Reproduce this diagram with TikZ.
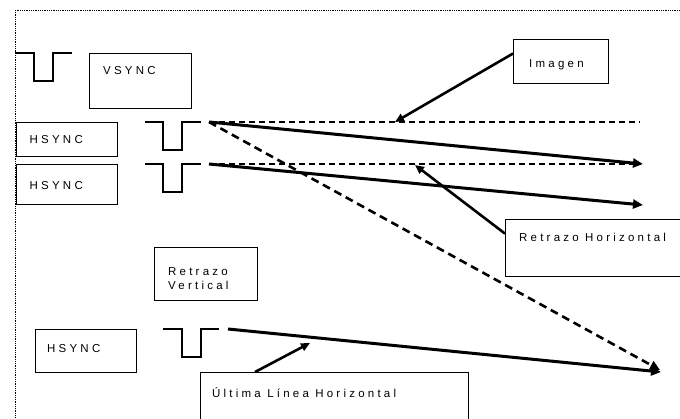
\documentclass[tikz,border=0pt]{standalone}
\usepackage{fontspec}
\setmainfont{Liberation Sans}
\usetikzlibrary{arrows.meta,calc}
\newcommand\spacedtext{\fontsize{11.5}{14.6}\selectfont\addfontfeature{LetterSpace=28}}
\tikzset{
  frame/.style={line width=0.9pt, dash pattern=on 0.9pt off 0.9pt},
  box/.style={draw, line width=1.4pt, rectangle, inner sep=0pt, anchor=north west},
  lbl/.style={anchor=base west, inner sep=0pt, font=\spacedtext},
  pulse/.style={line width=1.4pt},
  guide/.style={line width=1.2pt, dash pattern=on 6pt off 4pt},
  ray/.style={line width=3pt, -{Triangle[length=10pt,width=9pt]}},
  dray/.style={line width=2.6pt, dash pattern=on 8pt off 5pt, -{Triangle[length=10pt,width=9pt]}},
  pointer/.style={line width=2.6pt, -{Triangle[length=9pt,width=8pt]}},
}
\begin{document}
\begin{tikzpicture}[x=1pt,y=-1pt]
  \path[use as bounding box, clip] (0,0) rectangle (680,418);

  % dotted outer frame (only top and left edges fall inside the page)
  \draw[frame] (15,10) rectangle (720,460);

  % boxes
  \node[box, minimum width=102, minimum height=55] (vs) at (89,53) {};
  \node[box, minimum width=101, minimum height=34] (h1) at (16,122) {};
  \node[box, minimum width=101, minimum height=40] (h2) at (16,164) {};
  \node[box, minimum width=95,  minimum height=44] (img) at (513,39) {};
  \node[box, minimum width=200, minimum height=57] (rh) at (505,219) {};
  \node[box, minimum width=103, minimum height=53] (rv) at (154,247) {};
  \node[box, minimum width=101, minimum height=43] (h3) at (35,329) {};
  \node[box, minimum width=268, minimum height=80] (ul) at (200,372) {};

  % labels
  \node[lbl] (vs-t)  at (103,74.5) {VSYNC};
  \node[lbl] (h1-t)  at (29.5,143.3) {HSYNC};
  \node[lbl] (h2-t)  at (29.5,189) {HSYNC};
  \node[lbl] (img-t) at (529,67) {Imagen};
  \node[lbl] (rh-t)  at (519,241) {Retrazo Horizontal};
  \node[lbl, anchor=west, align=left] (rv-t) at (168,278.5) {Retrazo\\Vertical};
  \node[lbl] (h3-t)  at (47,352) {HSYNC};
  \node[lbl] (ul-t)  at (212,397) {Última Línea Horizontal};

  % sync pulses
  \draw[pulse] (15,53) -- (34,53) -- (34,81) -- (53,81) -- (53,53) -- (72,53);
  \draw[pulse] (145,122) -- (163,122) -- (163,150) -- (182,150) -- (182,122) -- (201,122);
  \draw[pulse] (145,164) -- (163,164) -- (163,192) -- (182,192) -- (182,164) -- (201,164);
  \draw[pulse] (163,329) -- (182,329) -- (182,357) -- (201,357) -- (201,329) -- (219,329);

  % scan line end points
  \coordinate (a1) at (209,122);
  \coordinate (a2) at (209,164);
  \coordinate (a3) at (228,329);
  \coordinate (g1) at (640,122);
  \coordinate (g2) at (640,164);
  \coordinate (r1) at (643,164);
  \coordinate (r2) at (643,205);
  \coordinate (r3) at (661,372);
  \coordinate (d1) at (660,370);
  \coordinate (img-p) at (395,122);
  \coordinate (rh-p)  at (415,165);
  \coordinate (ul-p)  at (310,343);

  % screen lines
  \draw[guide] (a1) -- (g1);
  \draw[guide] (a2) -- (g2);
  \draw[ray] (a1) -- (r1);
  \draw[ray] (a2) -- (r2);
  \draw[ray] (a3) -- (r3);
  \draw[dray] (a1) -- (d1);

  % callout pointers
  \draw[pointer] ($(img.north west)!0.32!(img.south west)$) -- (img-p);
  \draw[pointer] ($(rh.north west)!0.25!(rh.south west)$) -- (rh-p);
  \draw[pointer] ($(ul.north west)+(55,0)$) -- (ul-p);
\end{tikzpicture}
\end{document}
